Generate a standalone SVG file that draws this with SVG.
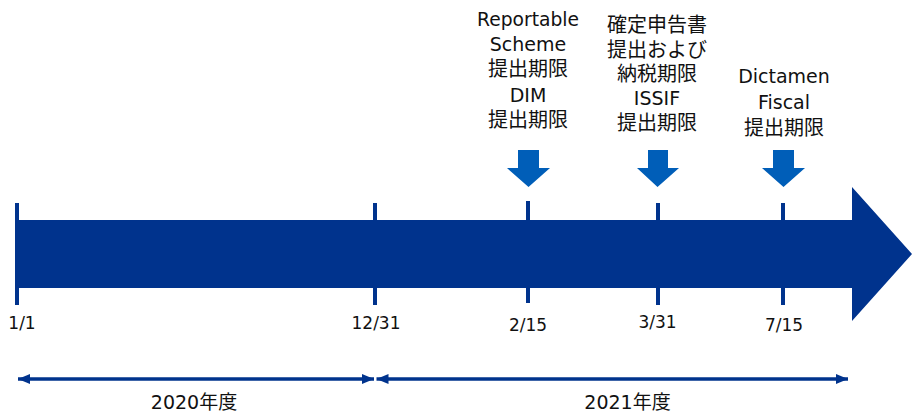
<svg xmlns="http://www.w3.org/2000/svg" width="912" height="411" viewBox="0 0 912 411">
  <defs>
    <style>
      text { font-family: "DejaVu Sans", "Noto Sans CJK JP", sans-serif; fill: #111; text-anchor: middle; }
      .lat { font-size: 19px; }
      .cjk { font-size: 20px; }
      .date { font-size: 17px; }
      .year { font-size: 19px; }
      .main { fill: #00338D; }
      .tick { stroke: #00338D; stroke-width: 4; }
      .down { fill: #005EB8; }
      .range { stroke: #00338D; stroke-width: 3.5; fill: none; marker-start: url(#ah-start); marker-end: url(#ah-end); }
    </style>
    <marker id="ah-end" markerUnits="userSpaceOnUse" markerWidth="13" markerHeight="12" refX="12" refY="5" orient="auto">
      <path d="M0,0 L12,5 L0,10 Z" fill="#00338D"/>
    </marker>
    <marker id="ah-start" markerUnits="userSpaceOnUse" markerWidth="13" markerHeight="12" refX="0" refY="5" orient="auto">
      <path d="M12,0 L0,5 L12,10 Z" fill="#00338D"/>
    </marker>
  </defs>

  <g id="timeline">
    <polygon class="main" points="16,220 852,220 852,187 912,254 852,321 852,288 16,288"/>
  </g>

  <g id="d-0101">
    <line class="tick" x1="17" y1="203" x2="17" y2="305"/>
    <text class="date" x="22" y="329">1/1</text>
  </g>
  <g id="d-1231">
    <line class="tick" x1="375" y1="203" x2="375" y2="305"/>
    <text class="date" x="376" y="329">12/31</text>
  </g>
  <g id="d-0215">
    <line class="tick" x1="528" y1="201" x2="528" y2="303"/>
    <text class="date" x="528" y="331">2/15</text>
  </g>
  <g id="d-0331">
    <line class="tick" x1="658" y1="203" x2="658" y2="305"/>
    <text class="date" x="657.5" y="328">3/31</text>
  </g>
  <g id="d-0715">
    <line class="tick" x1="783" y1="203" x2="783" y2="305"/>
    <text class="date" x="784" y="331">7/15</text>
  </g>

  <g id="ev-reportable">
    <text class="lat" x="528" y="26" textLength="102" lengthAdjust="spacingAndGlyphs">Reportable</text>
    <text class="lat" x="528" y="51">Scheme</text>
    <text class="cjk" x="528" y="76">提出期限</text>
    <text class="lat" x="528" y="101.5">DIM</text>
    <text class="cjk" x="528" y="127">提出期限</text>
    <polygon class="down" points="518,150 539,150 539,168 550,168 528.5,187 507,168 518,168"/>
  </g>

  <g id="ev-kakutei">
    <text class="cjk" x="657" y="31.5">確定申告書</text>
    <text class="cjk" x="657" y="57">提出および</text>
    <text class="cjk" x="657" y="80.5">納税期限</text>
    <text class="lat" x="657" y="105">ISSIF</text>
    <text class="cjk" x="657" y="130">提出期限</text>
    <polygon class="down" points="648,150 668,150 668,168 679,168 657.5,187 637,168 648,168"/>
  </g>

  <g id="ev-dictamen">
    <text class="lat" x="784" y="83">Dictamen</text>
    <text class="lat" x="784" y="109">Fiscal</text>
    <text class="cjk" x="784" y="134.5">提出期限</text>
    <polygon class="down" points="773,150 794,150 794,168 805,168 783.5,187 762,168 773,168"/>
  </g>

  <g id="connectors">
    <line class="range" x1="18" y1="379" x2="374" y2="379"/>
    <line class="range" x1="376.5" y1="379" x2="848" y2="379"/>
  </g>

  <g id="y-2020">
    <text class="year" x="194" y="409">2020年度</text>
  </g>
  <g id="y-2021">
    <text class="year" x="627.5" y="409">2021年度</text>
  </g>
</svg>
